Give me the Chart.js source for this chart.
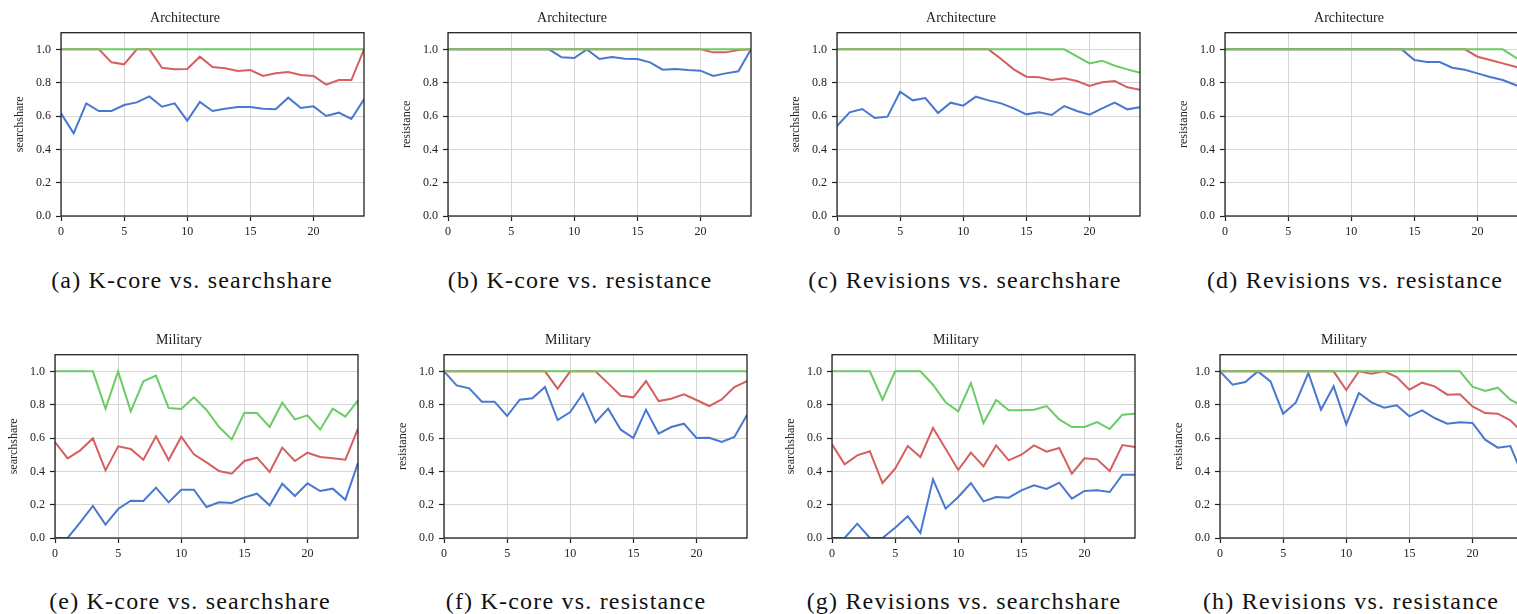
<!DOCTYPE html>
<html>
<head>
<meta charset="utf-8">
<script src="https://cdn.jsdelivr.net/npm/chart.js@4.4.0/dist/chart.umd.min.js"></script>
<style>
  body { margin: 0; width: 1517px; height: 614px; overflow: hidden; background: #fff; position: relative; }
  canvas { position: absolute; }
  .cap {
    position: absolute; width: 400px; text-align: center; line-height: 30px;
    font-family: "Liberation Serif", serif; font-size: 24px; letter-spacing: 1.2px;
    white-space: nowrap; color: #111;
  }
</style>
</head>
<body>
<script>
// x axis: step index
const steps = [0,1,2,3,4,5,6,7,8,9,10,11,12,13,14,15,16,17,18,19,20,21,22,23,24];

// (a) Architecture, K-core vs. searchshare
const aBlue  = [0.616,0.496,0.676,0.63,0.63,0.666,0.682,0.718,0.656,0.676,0.572,0.684,0.63,0.644,0.654,0.654,0.644,0.64,0.71,0.648,0.658,0.6,0.62,0.582,0.70];
const aRed   = [1,1,1,1,0.922,0.91,1,1,0.89,0.88,0.882,0.956,0.894,0.886,0.87,0.876,0.84,0.856,0.864,0.846,0.84,0.788,0.816,0.816,1];
const aGreen = [1,1,1,1,1,1,1,1,1,1,1,1,1,1,1,1,1,1,1,1,1,1,1,1,1];

// (b) Architecture, K-core vs. resistance
const bBlue  = [1,1,1,1,1,1,1,1,1,0.952,0.948,1,0.942,0.954,0.944,0.942,0.922,0.878,0.882,0.876,0.872,0.84,0.856,0.868,1];
const bRed   = [1,1,1,1,1,1,1,1,1,1,1,1,1,1,1,1,1,1,1,1,1,0.982,0.982,0.996,1];
const bGreen = [1,1,1,1,1,1,1,1,1,1,1,1,1,1,1,1,1,1,1,1,1,1,1,1,1];

// (c) Architecture, Revisions vs. searchshare
const cBlue  = [0.54,0.622,0.642,0.588,0.596,0.746,0.694,0.708,0.618,0.68,0.662,0.716,0.694,0.676,0.646,0.61,0.622,0.606,0.66,0.63,0.608,0.646,0.68,0.64,0.652];
const cRed   = [1,1,1,1,1,1,1,1,1,1,1,1,1,0.942,0.88,0.836,0.832,0.816,0.826,0.81,0.78,0.802,0.81,0.772,0.758];
const cGreen = [1,1,1,1,1,1,1,1,1,1,1,1,1,1,1,1,1,1,1,0.958,0.916,0.932,0.902,0.88,0.86];

// (d) Architecture, Revisions vs. resistance
const dBlue  = [1,1,1,1,1,1,1,1,1,1,1,1,1,1,1,0.936,0.924,0.924,0.89,0.878,0.856,0.834,0.816,0.786,0.76];
const dRed   = [1,1,1,1,1,1,1,1,1,1,1,1,1,1,1,1,1,1,1,1,0.956,0.936,0.916,0.896,0.876];
const dGreen = [1,1,1,1,1,1,1,1,1,1,1,1,1,1,1,1,1,1,1,1,1,1,1,0.952,0.91];

// (e) Military, K-core vs. searchshare
const eBlue  = [0,0,0.094,0.192,0.08,0.174,0.224,0.222,0.302,0.214,0.29,0.29,0.186,0.214,0.21,0.244,0.266,0.196,0.326,0.252,0.328,0.282,0.296,0.23,0.45];
const eRed   = [0.576,0.478,0.526,0.598,0.406,0.55,0.534,0.47,0.61,0.468,0.608,0.502,0.454,0.402,0.386,0.462,0.482,0.396,0.542,0.462,0.512,0.486,0.478,0.47,0.656];
const eGreen = [1,1,1,1,0.776,1,0.76,0.94,0.974,0.78,0.774,0.844,0.768,0.666,0.592,0.752,0.75,0.666,0.812,0.712,0.736,0.65,0.776,0.728,0.826];

// (f) Military, K-core vs. resistance
const fBlue  = [1,0.916,0.898,0.818,0.818,0.732,0.83,0.838,0.906,0.708,0.756,0.866,0.694,0.776,0.65,0.6,0.77,0.626,0.666,0.686,0.6,0.602,0.576,0.606,0.738];
const fRed   = [1,1,1,1,1,1,1,1,1,0.896,1,1,1,0.928,0.854,0.844,0.942,0.822,0.836,0.862,0.828,0.792,0.832,0.906,0.942];
const fGreen = [1,1,1,1,1,1,1,1,1,1,1,1,1,1,1,1,1,1,1,1,1,1,1,1,1];

// (g) Military, Revisions vs. searchshare
const gBlue  = [0,0,0.086,0,0,0.062,0.13,0.03,0.352,0.176,0.246,0.33,0.22,0.246,0.242,0.286,0.316,0.294,0.332,0.236,0.282,0.286,0.276,0.38,0.38];
const gRed   = [0.562,0.442,0.496,0.52,0.33,0.416,0.552,0.486,0.66,0.536,0.408,0.512,0.43,0.556,0.466,0.5,0.556,0.518,0.54,0.386,0.478,0.472,0.402,0.558,0.546];
const gGreen = [1,1,1,1,0.83,1,1,1,0.92,0.814,0.76,0.93,0.69,0.828,0.766,0.766,0.77,0.792,0.712,0.666,0.666,0.696,0.654,0.74,0.746];

// (h) Military, Revisions vs. resistance
const hBlue  = [1,0.92,0.936,1,0.94,0.746,0.812,0.99,0.77,0.91,0.682,0.87,0.814,0.782,0.796,0.73,0.766,0.72,0.686,0.694,0.69,0.59,0.542,0.552,0.37];
const hRed   = [1,1,1,1,1,1,1,1,1,1,0.888,1,0.986,1,0.966,0.89,0.932,0.91,0.86,0.862,0.79,0.75,0.746,0.706,0.63];
const hGreen = [1,1,1,1,1,1,1,1,1,1,1,1,1,1,1,1,1,1,1,1,0.908,0.882,0.902,0.83,0.79];

const titles = ['Architecture', 'Military'];
const yLabels = ['searchshare', 'resistance'];
const captions = [
  '(a) K-core vs. searchshare', '(b) K-core vs. resistance',
  '(c) Revisions vs. searchshare', '(d) Revisions vs. resistance',
  '(e) K-core vs. searchshare', '(f) K-core vs. resistance',
  '(g) Revisions vs. searchshare', '(h) Revisions vs. resistance'
];

const BLUE = '#4878d0', RED = '#d65f5f', GREEN = '#6acc64';
const FONT = '"Liberation Serif", "Times New Roman", serif';

// layout of the 2x4 grid (plot area left edges, canvas tops, caption centres)
const plotLeft = [[61, 448, 837, 1225], [55, 444, 832, 1220]];
const rowTop = [0, 321.6];
const capX = [[192, 580, 965, 1355], [190, 576, 964, 1351]];
const capY = [265, 586];
const Y_W = 55, PLOT_W = 303, PAD_R = 8, X_H = 30;

const panels = [
  [aBlue, aRed, aGreen], [bBlue, bRed, bGreen], [cBlue, cRed, cGreen], [dBlue, dRed, dGreen],
  [eBlue, eRed, eGreen], [fBlue, fRed, fGreen], [gBlue, gRed, gGreen], [hBlue, hRed, hGreen]
];

// dark box around the plot area, like matplotlib spines
const framePlugin = {
  id: 'frame',
  afterDraw(chart) {
    const { ctx, chartArea: a } = chart;
    ctx.save();
    ctx.strokeStyle = '#1a1a1a';
    ctx.lineWidth = 1.25;
    ctx.strokeRect(a.left, a.top, a.right - a.left, a.bottom - a.top);
    ctx.restore();
  }
};

function toPoints(vals) {
  return steps.map((x, i) => ({ x: x, y: vals[i] }));
}

function makePanel(idx) {
  const row = Math.floor(idx / 4), col = idx % 4;
  const [blue, red, green] = panels[idx];

  const canvas = document.createElement('canvas');
  canvas.width = Y_W + PLOT_W + PAD_R;
  canvas.height = 216 + X_H;
  canvas.style.left = (plotLeft[row][col] - Y_W) + 'px';
  canvas.style.top = rowTop[row] + 'px';
  document.body.appendChild(canvas);

  const gridOpts = { color: '#d6d6d6', lineWidth: 1, tickColor: '#222', tickLength: 5, tickWidth: 1.2 };
  const tickFont = { family: FONT, size: 12 };

  new Chart(canvas, {
    type: 'line',
    data: {
      datasets: [
        { data: toPoints(blue),  borderColor: BLUE,  order: 2 },
        { data: toPoints(red),   borderColor: RED,   order: 1 },
        { data: toPoints(green), borderColor: GREEN, order: 0 }
      ]
    },
    options: {
      responsive: false,
      animation: false,
      devicePixelRatio: 1,
      layout: { padding: { left: 0, right: PAD_R, top: 0, bottom: 0 } },
      elements: {
        line: { borderWidth: 2, tension: 0 },
        point: { radius: 0 }
      },
      plugins: {
        legend: { display: false },
        tooltip: { enabled: false },
        title: {
          display: true,
          text: titles[row],
          color: '#222',
          font: { family: FONT, size: 14, weight: 'normal', lineHeight: 1 },
          padding: { top: 11, bottom: 7.7 }
        }
      },
      scales: {
        x: {
          type: 'linear',
          min: 0, max: 24,
          afterFit(s) { s.height = X_H; },
          ticks: { stepSize: 5, includeBounds: false, padding: 4, color: '#222', font: tickFont, maxRotation: 0, autoSkip: false },
          grid: gridOpts,
          border: { display: false }
        },
        y: {
          min: 0, max: 1.1,
          afterFit(s) { s.width = Y_W; },
          ticks: {
            stepSize: 0.2, includeBounds: false, padding: 5, color: '#222', font: tickFont,
            callback: v => v.toFixed(1)
          },
          grid: gridOpts,
          border: { display: false },
          title: {
            display: true,
            text: yLabels[col % 2],
            color: '#222',
            font: { family: FONT, size: 12, lineHeight: 1 },
            padding: { top: 8, bottom: 0 }
          }
        }
      }
    },
    plugins: [framePlugin]
  });

  const cap = document.createElement('div');
  cap.className = 'cap';
  cap.textContent = captions[idx];
  cap.style.left = (capX[row][col] - 200) + 'px';
  cap.style.top = capY[row] + 'px';
  document.body.appendChild(cap);
}

for (let i = 0; i < panels.length; i++) makePanel(i);
</script>
</body>
</html>
